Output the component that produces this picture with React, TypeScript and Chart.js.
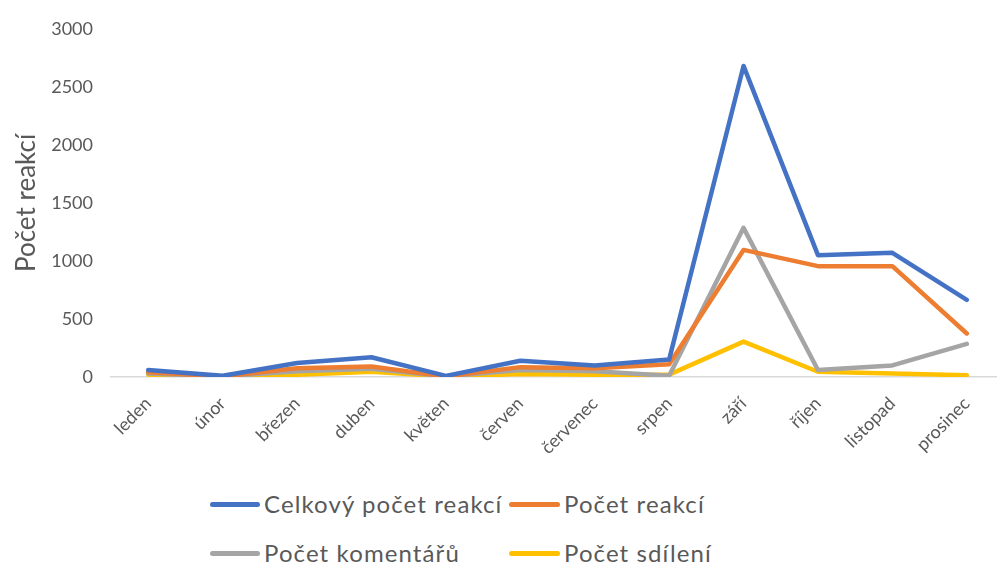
import React, { useEffect, useRef } from "react";
import { Chart, registerables } from "chart.js";

Chart.register(...registerables);

const months = ["leden", "únor", "březen", "duben", "květen", "červen", "červenec", "srpen", "září", "říjen", "listopad", "prosinec"];
const celkovy = [60, 10, 120, 170, 10, 140, 100, 150, 2680, 1050, 1070, 665];
const reakce = [40, 5, 75, 90, 5, 85, 75, 110, 1095, 955, 955, 375];
const komentare = [30, 5, 50, 70, 5, 60, 50, 10, 1285, 60, 100, 285];
const sdileni = [20, 5, 20, 45, 5, 25, 20, 20, 305, 45, 30, 15];
const seriesNames = ["Celkový počet reakcí", "Počet reakcí", "Počet komentářů", "Počet sdílení"];
const seriesColors = ["#4472C4", "#ED7D31", "#A5A5A5", "#FFC000"];
const yTicks = [0, 500, 1000, 1500, 2000, 2500, 3000];

const FONT = "Lato, 'Open Sans', sans-serif";

export default function App() {
  const ref = useRef<HTMLCanvasElement | null>(null);
  useEffect(() => {
    document.body.style.margin = "0";
    document.body.style.overflow = "hidden";
    const values = [celkovy, reakce, komentare, sdileni];
    const chart = new Chart(ref.current as HTMLCanvasElement, {
      type: "line",
      data: {
        labels: months,
        datasets: values.map((v, i) => ({
          label: seriesNames[i],
          data: v,
          borderColor: seriesColors[i],
          backgroundColor: seriesColors[i],
          borderWidth: 4.5,
          pointRadius: 0,
          tension: 0,
          borderCapStyle: "round" as const,
          borderJoinStyle: "round" as const,
          order: i,
        })).reverse(),
      },
      options: {
        animation: false,
        responsive: false,
        maintainAspectRatio: false,
        layout: { padding: { top: 27, right: 6, left: 0, bottom: 0 } },
        plugins: { legend: { display: false }, tooltip: { enabled: false } },
        scales: {
          x: {
            offset: true,
            grid: { display: false, drawTicks: false },
            border: { display: true, color: "#D9D9D9", width: 1.5 },
            ticks: {
              color: "#595959",
              font: { family: FONT, size: 18 },
              maxRotation: 45,
              minRotation: 45,
              padding: 16,
              autoSkip: false,
            },
            afterFit: (s: any) => { s.height = 93; },
          },
          y: {
            min: 0,
            max: 3000,
            afterBuildTicks: (s: any) => { s.ticks = yTicks.map((v) => ({ value: v })); },
            grid: { display: false, drawTicks: false },
            border: { display: false },
            ticks: {
              color: "#595959",
              font: { family: FONT, size: 18 },
              padding: 18,
              callback: (v: any) => String(v),
            },
            title: {
              display: true,
              text: "Počet reakcí",
              color: "#595959",
              font: { family: FONT, size: 26 },
              padding: { top: 11, bottom: 0 },
            },
            afterFit: (s: any) => { s.width = 111; },
          },
        },
      },
    });
    return () => chart.destroy();
  }, []);

  const legendRows = [
    { top: 504, items: [0, 1] },
    { top: 553, items: [2, 3] },
  ];
  const colX = [[210, 264], [509, 564]];

  return (
    <div style={{ position: "fixed", left: 0, top: 0, width: 997, height: 563, overflow: "hidden", background: "#fff" }}>
      <canvas ref={ref} width={1010} height={470} style={{ position: "absolute", left: 0, top: 0, width: 1010, height: 470 }} />
      {legendRows.map((row, r) =>
        row.items.map((idx, c) => (
          <React.Fragment key={`${r}-${c}`}>
            <div style={{ position: "absolute", left: colX[c][0], top: row.top - 2.5, width: colX[c][1] - colX[c][0] - 4, height: 5, borderRadius: 3, background: seriesColors[idx] }} />
            <div style={{ position: "absolute", left: colX[c][1], top: row.top - 16, height: 32, lineHeight: "32px", fontFamily: FONT, fontSize: 24, letterSpacing: "1.1px", color: "#595959", whiteSpace: "nowrap" }}>
              {seriesNames[idx]}
            </div>
          </React.Fragment>
        ))
      )}
    </div>
  );
}
